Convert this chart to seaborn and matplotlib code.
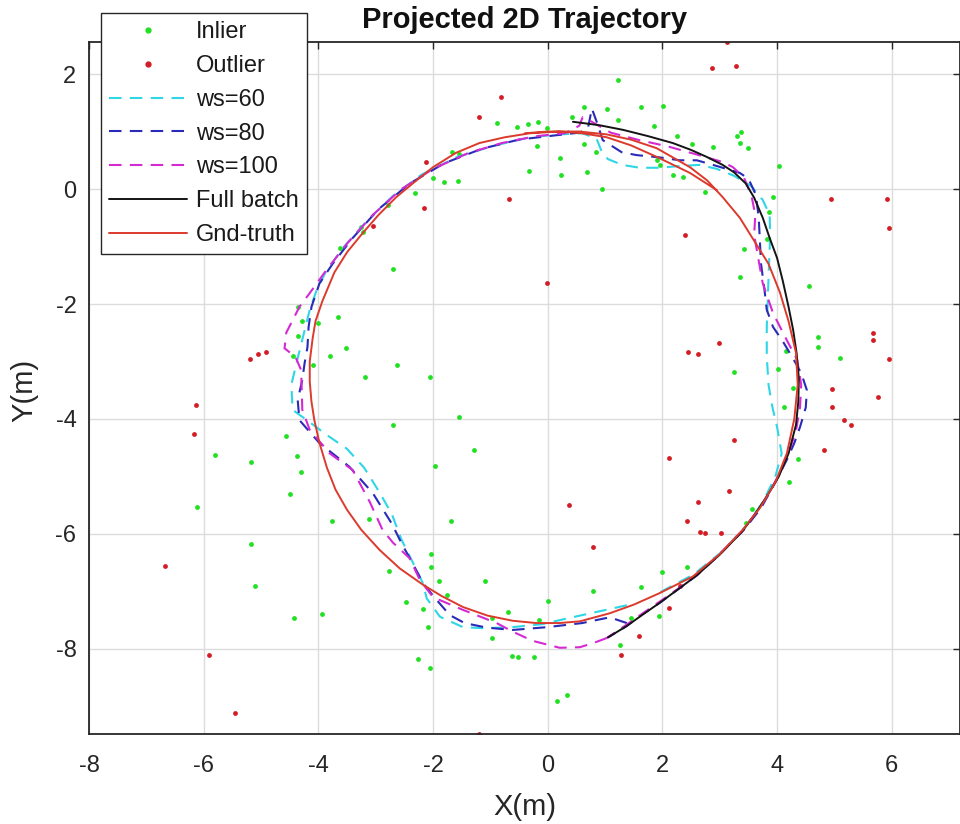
import matplotlib
matplotlib.use("Agg")
import matplotlib.pyplot as plt
from matplotlib.lines import Line2D
import seaborn as sns
import pandas as pd

# ---------------- data ----------------
inlier_x = [-4.36, -4.28, -4.35, -4.01, -3.66, -3.51, -3.80, -4.45, -4.10, -3.19, -2.62, -2.06,
            -2.70, -3.63, -3.23, -2.79, -2.32, -2.00, -1.81, -1.57, -1.67, -1.54, -1.55, -3.25,
            1.22, 0.63, 1.03, 1.62, 2.01, 1.22, 0.42, 1.85, -0.89, -0.54, -0.35, -0.17, -0.02,
            -0.19, 0.21, 0.24, -0.33, 0.63, 0.68, 0.84, 0.94, 2.25, 2.51, 2.88, 2.18, 2.36, 1.95,
            1.90, 3.30, 3.37, 3.35, 3.49, 4.03, 2.74, 3.93, 3.86, 3.82, 3.42, 3.35, 4.55, 4.71,
            4.71, 4.15, 5.10, 4.01, 3.25, 4.28, 4.12,
            -2.70, -1.29, -4.57, -4.38, -4.30, -5.81, -5.17, -4.49, -1.97, -6.11, -3.77, -3.11,
            -1.68, -5.18, -2.04, -2.04, -2.76, -1.90, -5.11, -1.75, -2.48, -2.18, -2.09, -3.93,
            -4.43, -2.27, -2.06,
            4.36, 4.21, 3.56, 3.46, 2.43, 1.99, 1.62, 0.79, 0.00, -0.70, -1.10, -0.98, -0.16,
            1.45, 1.94, -0.98, -0.63, -0.51, -0.24, 1.26, 0.17, 0.33]
inlier_y = [-2.05, -2.30, -2.56, -2.33, -2.23, -2.77, -2.90, -2.90, -3.06, -3.27, -3.06, -3.27,
            -1.39, -1.03, -0.75, -0.28, -0.07, 0.19, 0.12, 0.14, 0.64, 0.61, -3.96, -0.66,
            1.90, 1.43, 1.39, 1.43, 1.44, 1.20, 1.25, 1.10, 1.15, 1.08, 1.13, 1.17, 1.06,
            0.75, 0.54, 0.24, 0.31, 0.78, 0.30, 0.64, 0.00, 0.92, 0.78, 0.73, 0.24, 0.21, 0.42,
            0.50, 0.92, 0.99, 0.80, 0.71, 0.40, -0.05, -0.14, -0.40, -0.87, -1.04, -1.53, -1.69, -2.57,
            -2.75, -2.82, -2.94, -3.13, -3.18, -3.46, -3.79,
            -4.10, -4.54, -4.30, -4.64, -4.92, -4.63, -4.74, -5.30, -4.82, -5.53, -5.77, -5.74,
            -5.77, -6.17, -6.35, -6.57, -6.64, -6.82, -6.90, -7.06, -7.18, -7.30, -7.62, -7.39,
            -7.46, -8.17, -8.33,
            -4.70, -5.10, -5.57, -5.81, -6.57, -6.66, -6.92, -7.00, -7.16, -7.36, -6.82, -7.46, -7.50,
            -7.46, -7.43, -7.81, -8.12, -8.14, -8.14, -7.93, -8.90, -8.80]

outlier_x = [-2.13, -2.16, -3.05, -5.20, -5.06, -4.92, -6.13, -1.19,
             3.12, 2.86, 3.28, -0.82, -0.68, -0.02, 2.39, 4.94, 5.92, 5.95, 2.98, 2.44, 2.62,
             5.67, 5.67, 5.95, 4.96, 4.96, 5.76,
             -6.16, -6.67, -5.90, -5.45, -1.20,
             5.17, 5.29, 4.82, 3.25, 2.11, 0.37, 2.62, 2.43, 3.16, 2.65, 2.74, 3.02, 0.79,
             2.30, 2.11, 1.59, 1.27]
outlier_y = [0.47, -0.33, -0.64, -2.96, -2.87, -2.83, -3.76, 1.25,
             2.56, 2.10, 2.14, 1.60, -0.17, -1.63, -0.80, -0.17, -0.17, -0.68, -2.68, -2.83, -2.87,
             -2.50, -2.63, -2.96, -3.48, -3.79, -3.62,
             -4.26, -6.56, -8.10, -9.11, -9.48,
             -4.02, -4.10, -4.54, -4.37, -4.68, -5.50, -5.44, -5.77, -5.25, -5.97, -5.98, -5.98, -6.22,
             -6.90, -7.29, -7.77, -8.10]

ws60_x = [1.38, 0.79, 0.38, -0.10, -0.61, -1.10, -1.48, -1.88, -2.11, -2.18, -2.35, -2.55, -2.72,
          -2.95, -3.20, -3.50, -3.85, -4.20, -4.45, -4.47, -4.35, -4.25, -4.15, -4.03, -3.86,
          -3.55, -3.15, -2.70, -2.20, -1.60, -0.95, -0.31, 0.20, 0.60, 0.85, 0.93, 1.05, 1.30,
          1.60, 1.95, 2.30, 2.65, 2.95, 3.25, 3.55, 3.75, 3.87, 3.88, 3.86, 3.84, 3.82, 3.82,
          3.85, 3.92, 4.00, 4.08, 3.97, 3.75, 3.45, 3.05, 2.55, 1.95]
ws60_y = [-7.24, -7.37, -7.46, -7.57, -7.62, -7.64, -7.62, -7.44, -7.12, -6.85, -6.50, -6.10, -5.65,
          -5.25, -4.85, -4.52, -4.28, -4.02, -3.84, -3.40, -2.90, -2.50, -2.10, -1.76, -1.42,
          -1.00, -0.55, -0.12, 0.25, 0.55, 0.75, 0.90, 0.95, 0.97, 0.88, 0.68, 0.52, 0.42,
          0.37, 0.37, 0.40, 0.42, 0.35, 0.23, 0.05, -0.19, -0.45, -0.80, -1.30, -1.85, -2.40, -2.90,
          -3.40, -3.80, -4.14, -4.60, -5.00, -5.45, -5.87, -6.30, -6.70, -7.02]

ws80_x = [1.38, 1.08, 0.60, 0.00, -0.61, -1.06, -1.45, -1.71, -1.97, -2.18, -2.36, -2.53, -2.72,
          -3.05, -3.46, -3.98, -4.33, -4.36, -4.28, -4.24, -4.19, -4.17, -4.12, -3.98, -3.75,
          -3.40, -2.95, -2.40, -1.80, -1.15, -0.50, 0.10, 0.55, 0.70, 0.77, 0.85, 0.96, 1.29,
          1.55, 1.95, 2.30, 2.60, 2.95, 3.35, 3.50, 3.63, 3.68, 3.70, 3.72, 3.78, 3.82, 3.93,
          4.10, 4.28, 4.42, 4.52, 4.50, 4.40, 4.30, 4.17, 3.97, 3.72, 3.42, 3.02, 2.60, 2.25,
          1.95, 1.62, 1.35, 1.05]
ws80_y = [-7.55, -7.45, -7.55, -7.62, -7.67, -7.63, -7.55, -7.41, -7.11, -6.85, -6.50, -6.20, -5.82,
          -5.29, -4.83, -4.42, -4.02, -3.67, -3.32, -3.03, -2.75, -2.40, -2.05, -1.64, -1.30,
          -0.85, -0.35, 0.10, 0.45, 0.70, 0.86, 0.93, 0.98, 1.05, 1.40, 1.18, 0.85, 0.64,
          0.59, 0.55, 0.50, 0.50, 0.40, 0.28, 0.18, -0.10, -0.50, -0.90, -1.30, -1.75, -2.10, -2.40,
          -2.65, -2.95, -3.20, -3.50, -3.80, -4.14, -4.42, -4.71, -5.10, -5.55, -5.93, -6.33, -6.72, -6.98,
          -7.20, -7.42, -7.62, -7.80]

ws100_x = [1.03, 0.79, 0.56, 0.21, -0.26, -0.61, -0.89, -1.48, -2.00, -2.23, -2.41, -2.70, -2.88,
           -3.10, -3.40, -3.80, -4.15, -4.28, -4.30, -4.40, -4.59, -4.56, -4.33, -4.15, -3.86,
           -3.50, -3.05, -2.55, -2.00, -1.40, -0.80, -0.20, 0.30, 0.55, 0.61, 0.75, 1.10, 1.60,
           2.10, 2.60, 3.05, 3.23, 3.42, 3.55, 3.62, 3.60, 3.68, 3.75, 3.93, 4.17, 4.35, 4.42,
           4.40, 4.33, 4.20, 4.00, 3.78, 3.45, 3.05, 2.62, 2.25, 1.92, 1.60, 1.30, 1.03]
ws100_y = [-7.81, -7.90, -7.97, -7.98, -7.86, -7.70, -7.55, -7.32, -7.10, -6.80, -6.42, -6.15, -5.93,
           -5.45, -4.89, -4.60, -4.19, -3.84, -3.15, -2.92, -2.77, -2.50, -2.05, -1.81, -1.41,
           -0.95, -0.45, 0.00, 0.35, 0.62, 0.80, 0.92, 0.97, 1.10, 1.25, 1.18, 0.98, 0.85,
           0.74, 0.60, 0.47, 0.38, 0.20, -0.10, -0.45, -0.80, -1.25, -1.64, -2.16, -2.63, -2.97, -3.40,
           -3.80, -4.20, -4.60, -5.03, -5.42, -5.88, -6.30, -6.70, -6.97, -7.20, -7.42, -7.63, -7.81]

batch_x = [0.44, 0.90, 1.31, 1.75, 2.18, 2.50, 2.77, 3.05, 3.25, 3.45, 3.60, 3.75, 3.87, 4.00,
           4.10, 4.20, 4.28, 4.34, 4.38, 4.37, 4.33, 4.20, 4.03, 3.85, 3.62, 3.38, 3.00, 2.60,
           2.25, 1.95, 1.66, 1.38, 1.05]
batch_y = [1.17, 1.11, 1.03, 0.92, 0.80, 0.68, 0.56, 0.42, 0.29, 0.10, -0.15, -0.50, -0.85, -1.20,
           -1.60, -2.05, -2.45, -2.85, -3.30, -3.70, -4.10, -4.60, -5.00, -5.30, -5.65, -5.97, -6.36, -6.72,
           -6.98, -7.20, -7.40, -7.60, -7.80]

gnd_x = [2.95, 2.48, 1.90, 1.45, 1.03, 0.60, 0.20, -0.31, -0.75, -1.19, -1.60, -2.00, -2.35, -2.64,
         -2.95, -3.23, -3.50, -3.72, -3.93, -4.05, -4.10, -4.15, -4.15, -4.12, -4.07, -3.98, -3.85,
         -3.70, -3.50, -3.25, -2.93, -2.58, -2.18, -1.85, -1.48, -1.05, -0.61, -0.20, 0.20, 0.56,
         1.08, 1.50, 1.95, 2.53, 3.00, 3.40, 3.70, 3.97, 4.17, 4.30, 4.36, 4.33, 4.20, 4.05, 3.85,
         3.60, 3.35, 3.05, 2.78, 2.48, 1.90, 1.45, 1.03, 0.55, 0.00, -0.40]
gnd_y = [-0.02, 0.28, 0.56, 0.76, 0.90, 0.97, 1.00, 0.97, 0.90, 0.80, 0.63, 0.38, 0.10, -0.14,
         -0.45, -0.77, -1.10, -1.45, -1.95, -2.30, -2.60, -3.00, -3.35, -3.70, -4.02, -4.42, -4.85,
         -5.23, -5.58, -5.93, -6.28, -6.60, -6.88, -7.08, -7.27, -7.42, -7.51, -7.55, -7.55, -7.52,
         -7.38, -7.23, -7.03, -6.74, -6.35, -5.93, -5.55, -5.10, -4.60, -4.00, -3.40, -2.85, -2.30, -1.80, -1.30,
         -0.90, -0.50, -0.14, 0.15, 0.38, 0.71, 0.86, 0.95, 1.00, 1.00, 0.97]

x_ticks = [-8, -6, -4, -2, 0, 2, 4, 6]
y_ticks = [-8, -6, -4, -2, 0, 2]
labels = ["Inlier", "Outlier", "ws=60", "ws=80", "ws=100", "Full batch", "Gnd-truth"]

# ---------------- style ----------------
sns.set_theme(style="white")
plt.rcParams["font.family"] = ["Liberation Sans", "DejaVu Sans"]

C_IN = "#22e022"
C_OUT = "#d41c24"
C_60 = "#2ed6e6"
C_80 = "#2a2ab8"
C_100 = "#d42ad4"
C_BATCH = "#141414"
C_GND = "#dc3a2c"
AX_COL = "#262626"

fig = plt.figure(figsize=(9.6, 8.24), dpi=100)
ax = fig.add_axes([0.0927, 0.1092, 0.9073, 0.8398])

sns.scatterplot(x=inlier_x, y=inlier_y, ax=ax, color=C_IN, s=12, linewidth=0, zorder=2)
sns.scatterplot(x=outlier_x, y=outlier_y, ax=ax, color=C_OUT, s=12, linewidth=0, zorder=2)

dash = (0, (6, 4))
lines = [
    (ws60_x, ws60_y, C_60, dash, 1.5),
    (ws80_x, ws80_y, C_80, dash, 1.5),
    (ws100_x, ws100_y, C_100, dash, 1.5),
    (batch_x, batch_y, C_BATCH, "-", 1.4),
    (gnd_x, gnd_y, C_GND, "-", 1.4),
]
for i, (xs, ys, col, ls, lw) in enumerate(lines):
    df = pd.DataFrame({"x": xs, "y": ys})
    sns.lineplot(data=df, x="x", y="y", ax=ax, sort=False, estimator=None,
                 color=col, linestyle=ls, linewidth=lw, zorder=3 + i)

ax.set_xlim(-8, 7.19)
ax.set_ylim(-9.48, 2.557)
ax.set_xticks(x_ticks)
ax.set_yticks(y_ticks)
ax.set_xticklabels([str(v) for v in x_ticks])
ax.set_yticklabels([str(v) for v in y_ticks])
ax.grid(True, color="#dcdcdc", linewidth=1.0)
ax.set_axisbelow(True)
for sp in ax.spines.values():
    sp.set_color(AX_COL)
    sp.set_linewidth(1.3)
    sp.set_visible(True)
ax.tick_params(direction="in", length=5, width=1.0, color=AX_COL, labelcolor=AX_COL,
               labelsize=17, top=True, right=True)
ax.tick_params(axis="x", pad=15)
ax.tick_params(axis="y", pad=9)

ax.set_xlabel("X(m)", fontsize=21, color=AX_COL)
ax.set_ylabel("Y(m)", fontsize=21, color=AX_COL)
ax.xaxis.set_label_coords(0.5006, -0.085)
ax.yaxis.set_label_coords(-0.058, 0.497)
ax.set_title("Projected 2D Trajectory", fontsize=21, fontweight="bold", color="#111111",
             y=1.02, pad=0)

handles = [
    Line2D([], [], color=C_IN, marker=".", linestyle="none", markersize=7),
    Line2D([], [], color=C_OUT, marker=".", linestyle="none", markersize=7),
    Line2D([], [], color=C_60, linestyle=(0, (6, 4)), linewidth=1.5),
    Line2D([], [], color=C_80, linestyle=(0, (6, 4)), linewidth=1.5),
    Line2D([], [], color=C_100, linestyle=(0, (6, 4)), linewidth=1.5),
    Line2D([], [], color=C_BATCH, linewidth=1.4),
    Line2D([], [], color=C_GND, linewidth=1.4),
]
leg = ax.legend(handles, labels, loc="upper left", bbox_to_anchor=(0.105, 0.984),
                bbox_transform=fig.transFigure, borderaxespad=0, fontsize=17,
                labelspacing=0.5, handlelength=3.3, handletextpad=0.4, borderpad=0.34,
                fancybox=False, framealpha=1, edgecolor=AX_COL)
leg.get_frame().set_linewidth(1.0)
for t in leg.get_texts():
    t.set_color("#1a1a1a")

fig.savefig("out.png", dpi=100)
